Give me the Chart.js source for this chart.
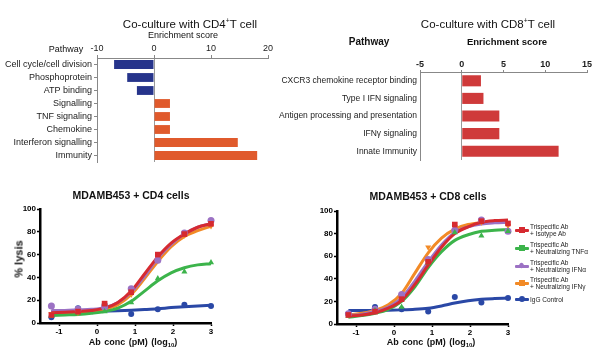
<!DOCTYPE html>
<html>
<head>
<meta charset="utf-8">
<script src="https://cdn.jsdelivr.net/npm/chart.js@4.4.1/dist/chart.umd.min.js"></script>
<style>
  body { margin: 0; background: #fff; font-family: "Liberation Sans", Arial, sans-serif; color: #111; }
  #page { position: relative; width: 600px; height: 352px; overflow: hidden; }
  canvas { position: absolute; }
  .t { position: absolute; transform: translate(-50%, -50%); white-space: nowrap; line-height: 1; }
  .b { font-weight: bold; }
  .leg { position: absolute; font-size: 6.5px; line-height: 7px; color: #222; white-space: nowrap; }
  .mk { position: absolute; }
</style>
</head>
<body>
<div id="page">
  <canvas id="cd4bars" width="300" height="170" style="left:0;top:0"></canvas>
  <canvas id="cd8bars" width="330" height="170" style="left:270px;top:0"></canvas>
  <canvas id="cd4dose" width="300" height="182" style="left:0;top:170px"></canvas>
  <canvas id="cd8dose" width="300" height="182" style="left:300px;top:170px"></canvas>

  <div class="t" style="left:190px;top:24px;font-size:11.5px">Co-culture with CD4<sup style="font-size:7px">+</sup>T cell</div>
  <div class="t" style="left:183px;top:35px;font-size:9px">Enrichment score</div>
  <div class="t" style="left:66px;top:49px;font-size:9px">Pathway</div>

  <div class="t" style="left:488px;top:24px;font-size:11.5px">Co-culture with CD8<sup style="font-size:7px">+</sup>T cell</div>
  <div class="t b" style="left:369px;top:42px;font-size:10px">Pathway</div>
  <div class="t b" style="left:507px;top:42px;font-size:9.5px">Enrichment score</div>

  <div class="t b" style="left:131px;top:195px;font-size:10.5px">MDAMB453 + CD4 cells</div>
  <div class="t b" style="left:428px;top:196px;font-size:10.5px">MDAMB453 + CD8 cells</div>
  <div class="t b" style="left:19px;top:259px;font-size:11px;transform:translate(-50%,-50%) rotate(-90deg)">% lysis</div>
  <div class="t b" style="left:133px;top:343px;font-size:9px;word-spacing:1px">Ab conc (pM) (log<sub style="font-size:6px">10</sub>)</div>
  <div class="t b" style="left:431px;top:343px;font-size:9px;word-spacing:1px">Ab conc (pM) (log<sub style="font-size:6px">10</sub>)</div>
  <div id="legend"></div>
</div>
<script>
// top panels: pathway enrichment
const cd4Pathways = ["Cell cycle/cell division", "Phosphoprotein", "ATP binding", "Signalling",
  "TNF signaling", "Chemokine", "Interferon signalling", "Immunity"];
const cd4Scores = [-7.0, -4.7, -3.0, 2.8, 2.8, 2.8, 14.7, 18.1];
const cd4ScoreTicks = [-10, 0, 10, 20];

const cd8Pathways = ["CXCR3 chemokine receptor binding", "Type I IFN signaling",
  "Antigen processing and presentation", "IFNγ signaling", "Innate Immunity"];
const cd8Scores = [2.3, 2.6, 4.5, 4.5, 11.6];
const cd8ScoreTicks = [-5, 0, 5, 10, 15];

// bottom panels: dose response
const logConc = [-1.2, -0.5, 0.2, 0.9, 1.6, 2.3, 3.0];
const fitConc = [-1.2, -0.85, -0.5, -0.15, 0.2, 0.55, 0.9, 1.25, 1.6, 1.95, 2.3, 2.65, 3.0];
const concTicks = [-1, 0, 1, 2, 3];
const lysisTicks = [0, 20, 40, 60, 80, 100];

const legendLines = [
  ["Trispecific Ab", "+ Isotype Ab"],
  ["Trispecific Ab", "+ Neutralizing TNFα"],
  ["Trispecific Ab", "+ Neutralizing IFNα"],
  ["Trispecific Ab", "+ Neutralizing IFNγ"],
  ["IgG Control"]
];

// CD4 measured
const cd4Isotype = [7, 10, 17, 27, 60, 78, 87];
const cd4Tnf = [6, 9, 10, 18, 39, 45, 53];
const cd4Ifna = [15, 12, 14, 30, 55, 79, 90];
const cd4Ifng = [8, 9, 13, 25, 55, 77, 85];
const cd4Igg = [5, 13, 16, 8, 12, 16, 15];
// CD4 fitted curves
const cd4IsotypeFit = [9, 9.5, 10, 11, 13, 18, 28, 43, 58, 70, 78, 84, 87];
const cd4TnfFit = [6.5, 7, 7.5, 8.5, 10, 13, 19, 28, 37, 44, 48.5, 51, 52];
const cd4IfnaFit = [11, 11, 11.5, 12, 13.5, 18, 27, 41, 57, 69, 78, 84, 87];
const cd4IfngFit = [8, 8.5, 9, 10, 12, 16, 25, 39, 54, 67, 76, 81, 85];
const cd4IggFit = [10, 10, 10, 10.2, 10.5, 10.8, 11.2, 11.8, 12.5, 13.5, 14.3, 15, 15.5];

// CD8 measured
const cd8Isotype = [8, 11, 22, 55, 88, 91, 89];
const cd8Tnf = [7, 12, 15, 54, 81, 78, 82];
const cd8Ifna = [9, 13, 26, 57, 83, 92, 82];
const cd8Ifng = [8, 12, 24, 68, 86, 90, 87];
const cd8Igg = [9, 15, 13, 11, 24, 19, 23];
// CD8 fitted curves
const cd8IsotypeFit = [7, 8, 10, 14, 21, 35, 52, 68, 80, 86, 90, 91.5, 92];
const cd8TnfFit = [6, 7.5, 9.5, 13, 20, 33, 50, 64, 74, 79, 82, 83, 83.5];
const cd8IfnaFit = [7.5, 8.5, 11, 15, 23, 38, 55, 70, 81, 86, 88.5, 89.5, 90];
const cd8IfngFit = [8, 9.5, 12, 17, 27, 45, 63, 76, 84, 88, 89.5, 90, 90];
const cd8IggFit = [12, 12, 12, 12.2, 12.5, 13, 14, 16, 18.5, 20.5, 21.8, 22.5, 23];

const styles = [
  { color: "#d62a30", point: "rect", r: 4, rot: 0 },
  { color: "#3cb44b", point: "triangle", r: 3.5, rot: 0 },
  { color: "#9c72c4", point: "circle", r: 3.5, rot: 0 },
  { color: "#f28a26", point: "triangle", r: 3.5, rot: 180 },
  { color: "#2a48a6", point: "circle", r: 3, rot: 0 }
];

Chart.defaults.font.family = '"Liberation Sans", Arial, sans-serif';
Chart.defaults.color = "#222";

const fixTicks = (values) => (scale) => { scale.ticks = values.map((v) => ({ value: v })); };

function barChart(id, labels, scores, opts) {
  new Chart(document.getElementById(id), {
    type: "bar",
    data: {
      labels: labels,
      datasets: [{
        data: scores,
        backgroundColor: (ctx) => (ctx.raw < 0 ? opts.neg : opts.pos),
        barPercentage: opts.barPct,
        categoryPercentage: 1
      }]
    },
    options: {
      indexAxis: "y",
      responsive: false,
      animation: false,
      layout: { padding: opts.padding },
      plugins: { legend: { display: false }, tooltip: { enabled: false } },
      scales: {
        x: {
          type: "linear",
          position: "top",
          min: opts.ticks[0],
          max: opts.ticks[opts.ticks.length - 1],
          afterBuildTicks: fixTicks(opts.ticks),
          afterFit: (s) => { s.height = opts.top; },
          border: { color: "#888" },
          grid: {
            color: (ctx) => (ctx.tick && ctx.tick.value === 0 ? "#999" : "rgba(0,0,0,0)"),
            tickColor: "#888",
            tickLength: opts.xTick
          },
          ticks: { font: opts.xFont, color: "#222", padding: opts.xPad, maxRotation: 0 }
        },
        y: {
          afterFit: (s) => { s.width = opts.left; },
          border: { color: "#888" },
          grid: { drawOnChartArea: false, offset: false, drawTicks: opts.yTick > 0, tickLength: opts.yTick, tickColor: "#888" },
          ticks: { font: opts.yFont, color: "#222", padding: opts.yPad, autoSkip: false }
        }
      }
    }
  });
}

barChart("cd4bars", cd4Pathways, cd4Scores, {
  neg: "#26348b", pos: "#e05a2c", barPct: 0.68, ticks: cd4ScoreTicks,
  padding: { left: 0, top: 0, right: 32, bottom: 8 }, top: 58, left: 97,
  xTick: 3, xPad: 1, yTick: 3, yPad: 2,
  xFont: { size: 9 }, yFont: { size: 9 }
});

barChart("cd8bars", cd8Pathways, cd8Scores, {
  neg: "#cf3a3a", pos: "#cf3a3a", barPct: 0.63, ticks: cd8ScoreTicks,
  padding: { left: 0, top: 0, right: 13, bottom: 10 }, top: 72, left: 150,
  xTick: 2, xPad: 0, yTick: 0, yPad: 3,
  xFont: { size: 9, weight: "bold" }, yFont: { size: 8.5 }
});

function doseChart(id, points, fits, box) {
  const datasets = [];
  points.forEach((ys, k) => datasets.push({
    type: "scatter",
    data: logConc.map((x, i) => ({ x: x, y: ys[i] })),
    pointStyle: styles[k].point,
    pointRadius: styles[k].r,
    pointRotation: styles[k].rot,
    backgroundColor: styles[k].color,
    borderColor: styles[k].color,
    borderWidth: 0,
    clip: false,
    order: 0
  }));
  fits.forEach((ys, k) => datasets.push({
    type: "line",
    data: fitConc.map((x, i) => ({ x: x, y: ys[i] })),
    borderColor: styles[k].color,
    borderWidth: 3,
    pointRadius: 0,
    cubicInterpolationMode: "monotone",
    fill: false,
    clip: false,
    order: k + 1
  }));

  const axisTicks = { font: { size: 8, weight: "bold" }, color: "#000", padding: 1, maxRotation: 0 };
  const axisGrid = { drawOnChartArea: false, tickLength: 3, tickColor: "#000", tickWidth: 1.5 };

  new Chart(document.getElementById(id), {
    type: "scatter",
    data: { datasets: datasets },
    options: {
      responsive: false,
      animation: false,
      layout: { padding: { left: 0, top: box.top, right: box.right, bottom: 0 } },
      plugins: { legend: { display: false }, tooltip: { enabled: false } },
      scales: {
        x: {
          type: "linear", min: -1.5, max: 3,
          afterBuildTicks: fixTicks(concTicks),
          afterFit: (s) => { s.height = box.bottom; },
          border: { color: "#000", width: 2.5 },
          grid: axisGrid,
          ticks: axisTicks
        },
        y: {
          type: "linear", min: 0, max: 100,
          afterBuildTicks: fixTicks(lysisTicks),
          afterFit: (s) => { s.width = box.left; },
          border: { color: "#000", width: 2.5 },
          grid: axisGrid,
          ticks: axisTicks
        }
      }
    }
  });
}

doseChart("cd4dose",
  [cd4Isotype, cd4Tnf, cd4Ifna, cd4Ifng, cd4Igg],
  [cd4IsotypeFit, cd4TnfFit, cd4IfnaFit, cd4IfngFit, cd4IggFit],
  { left: 40, top: 39, right: 89, bottom: 29 });

doseChart("cd8dose",
  [cd8Isotype, cd8Tnf, cd8Ifna, cd8Ifng, cd8Igg],
  [cd8IsotypeFit, cd8TnfFit, cd8IfnaFit, cd8IfngFit, cd8IggFit],
  { left: 37, top: 41, right: 92, bottom: 28 });

// legend for the CD8 panel
const legendY = [230, 248, 266, 283, 299];
const legendBox = document.getElementById("legend");
legendLines.forEach((lines, k) => {
  const st = styles[k];
  const cy = legendY[k];
  const line = document.createElement("div");
  line.className = "mk";
  line.style.cssText = `left:515px;top:${cy - 1.5}px;width:14px;height:3px;background:${st.color};border-radius:1px`;
  legendBox.appendChild(line);
  const m = document.createElement("div");
  m.className = "mk";
  let shape = `left:${522 - 3}px;top:${cy - 3}px;width:6px;height:6px;background:${st.color};`;
  if (st.point === "circle") shape += "border-radius:50%;";
  if (k === 2) shape += "transform:rotate(45deg);width:5px;height:5px;";
  m.style.cssText = shape;
  legendBox.appendChild(m);
  const txt = document.createElement("div");
  txt.className = "leg";
  txt.style.left = "530px";
  txt.style.top = (cy - lines.length * 3.5) + "px";
  txt.innerHTML = lines.join("<br>");
  legendBox.appendChild(txt);
});
</script>
</body>
</html>
